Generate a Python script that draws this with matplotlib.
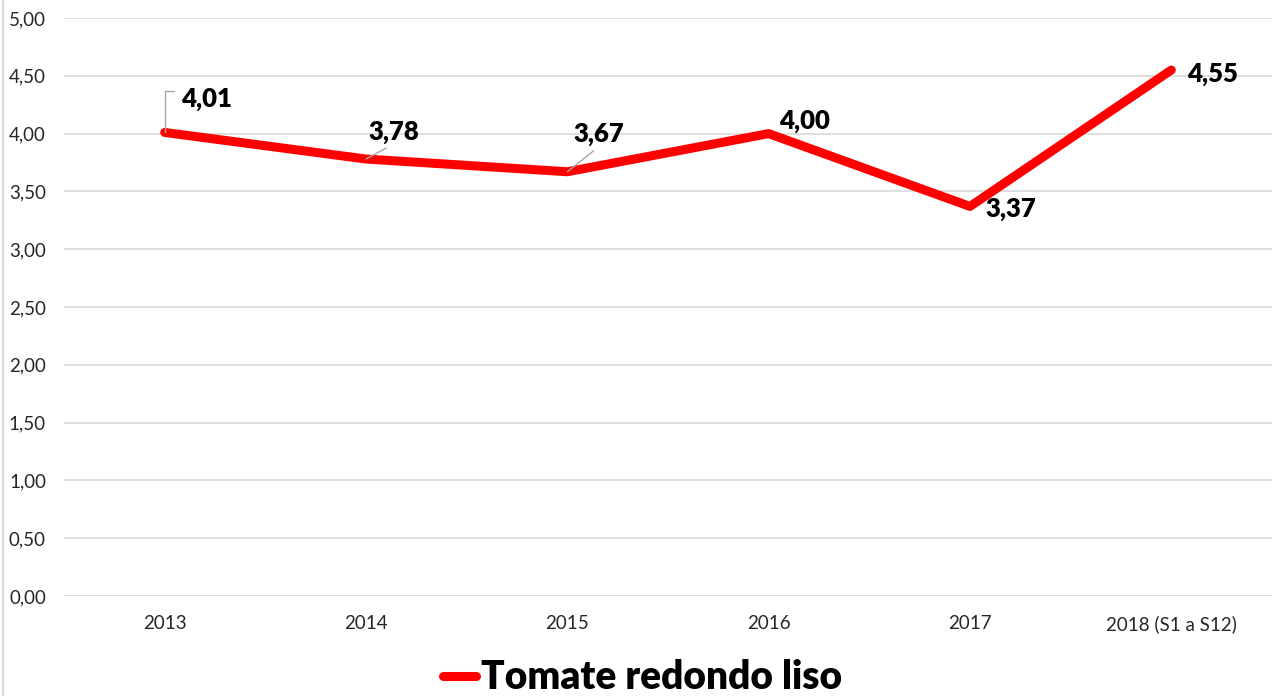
import matplotlib.pyplot as plt
from matplotlib.lines import Line2D

categories = ['2013', '2014', '2015', '2016', '2017', '2018 (S1 a S12)']
prices = [4.01, 3.78, 3.67, 4.00, 3.37, 4.55]
series_name = 'Tomate redondo liso'

# label offsets in points, and whether a leader line is drawn
label_offsets = [(11.5, 24), (20, 19.5), (23, 27), (26, 9), (29.5, -2), (29.5, -3)]
label_ha = ['left', 'center', 'center', 'center', 'center', 'center']
leaders = [True, True, True, False, False, False]

plt.rcParams['font.family'] = ['Lato', 'DejaVu Sans']

fig = plt.figure(figsize=(12.78, 6.96), dpi=100)
ax = fig.add_axes([64 / 1278, 1 - 596 / 696, (1272 - 64) / 1278, (596 - 18) / 696])

x = list(range(len(categories)))
line, = ax.plot(x, prices, color='#ff0000', lw=6.5, solid_capstyle='round',
                solid_joinstyle='round', label=series_name, zorder=3)

for i, v in enumerate(prices):
    txt = f'{v:.2f}'.replace('.', ',')
    if leaders[i]:
        if i == 0:
            ap = dict(arrowstyle='-', color='#a6a6a6', lw=1,
                      connectionstyle='angle,angleA=0,angleB=90,rad=0',
                      relpos=(0, 0.85), shrinkA=3, shrinkB=0)
        else:
            ap = dict(arrowstyle='-', color='#a6a6a6', lw=1,
                      relpos=(0.5, 0), shrinkA=2, shrinkB=0)
    else:
        ap = None
    ax.annotate(txt, (i, v), xytext=label_offsets[i], textcoords='offset points',
                ha=label_ha[i], va='center', fontsize=18.5, fontweight='heavy',
                color='black', arrowprops=ap, zorder=4)

ax.set_xlim(-0.5, len(categories) - 0.5)
ax.set_ylim(0, 5)
ax.set_yticks([i * 0.5 for i in range(11)])
ax.set_yticklabels([f'{i * 0.5:.2f}'.replace('.', ',') for i in range(11)])
ax.set_xticks(x)
ax.set_xticklabels(categories)
ax.tick_params(axis='y', length=0, pad=13, labelsize=13.5, labelcolor='#262626')
ax.tick_params(axis='x', length=0, pad=14, labelsize=13.5, labelcolor='#262626')
ax.grid(axis='y', color='#d9d9d9', lw=1.2)
ax.set_axisbelow(True)
for s in ax.spines.values():
    s.set_visible(False)

fig.add_artist(Line2D([3 / 1278, 3 / 1278], [0, 1], color='#d9d9d9', lw=1.5))

fig.legend(handles=[line], loc='center', bbox_to_anchor=(0.503, 0.026),
           frameon=False, prop={'size': 28, 'weight': 'heavy'},
           handlelength=0.85, handletextpad=0.12)

fig.savefig('out.png', dpi=100)
